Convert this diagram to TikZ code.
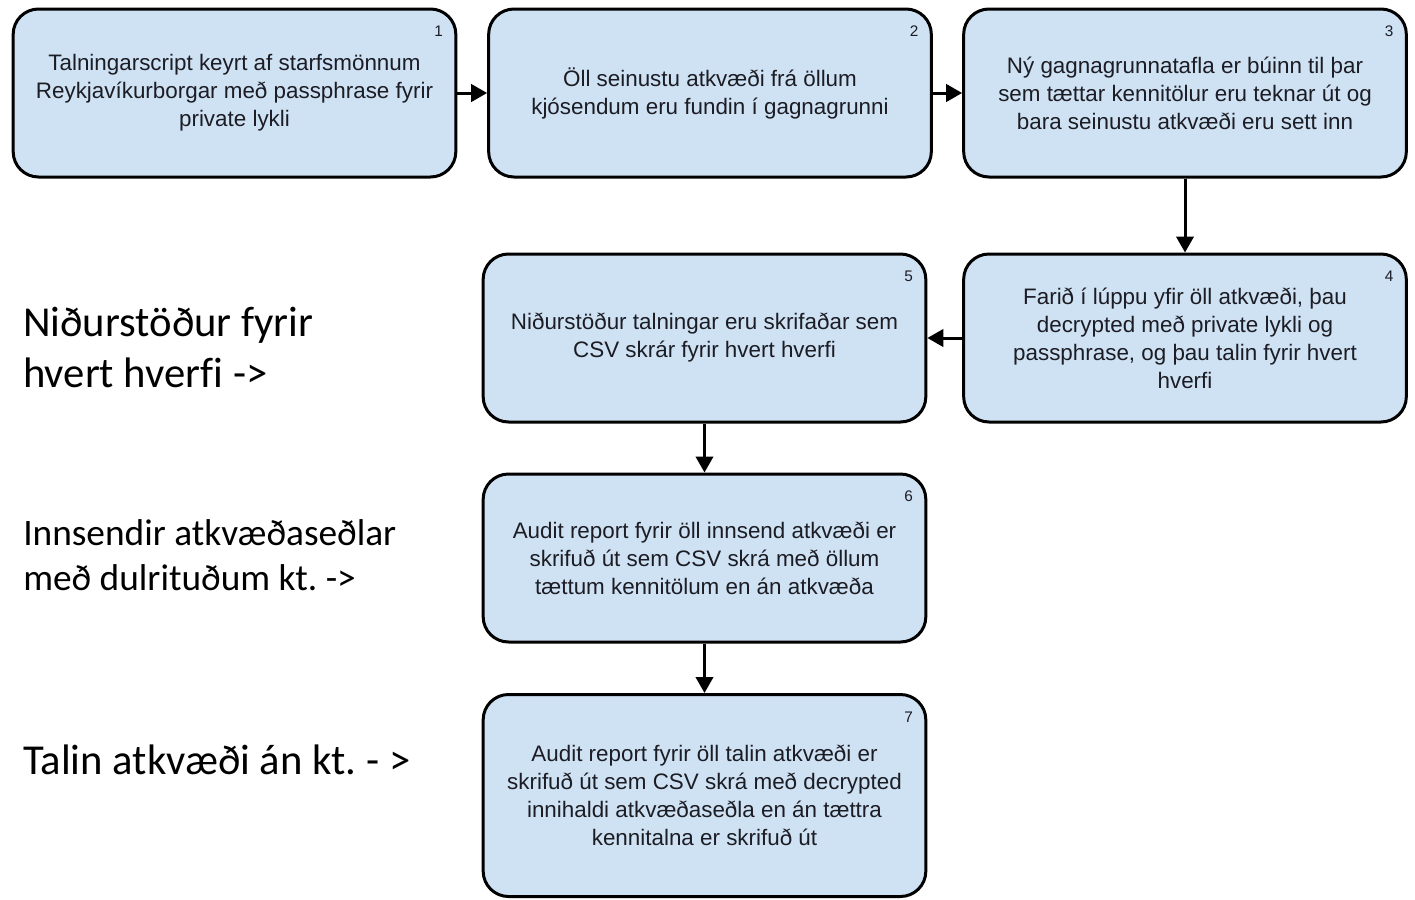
\documentclass[tikz,border=0pt]{standalone}
\usepackage{fontspec}
\setmainfont{Liberation Sans}
\newfontfamily\sidefont[Ligatures=NoCommon]{Carlito}
\usepackage{tikz}
\usetikzlibrary{arrows.meta}
\frenchspacing

\definecolor{boxblue}{HTML}{CFE2F3}
\definecolor{inktxt}{HTML}{1C1C24}

\tikzset{
  stepbox/.style={draw=black, line width=2.25pt, fill=boxblue, rounded corners=19pt,
    minimum width=332pt, minimum height=126pt, align=center, text=inktxt,
    font=\fontsize{16.8pt}{21pt}\selectfont},
  num/.style={font=\fontsize{11.5pt}{12pt}\selectfont, text=inktxt, inner sep=0pt},
  flow/.style={line width=2.25pt, -{Triangle[length=12pt,width=13pt]}},
  side/.style={anchor=west, align=left, inner sep=0pt, font=\sidefont}
}

\begin{document}
\begin{tikzpicture}[x=0.75pt,y=-0.75pt]
\useasboundingbox (0,0) rectangle (1415,900);

% the seven steps
\node[stepbox] (b1) at (234.5,93) {Talningarscript keyrt af starfsmönnum\\Reykjavíkurborgar með passphrase fyrir\\private lykli};
\node[stepbox] (b2) at (710,93) {Öll seinustu atkvæði frá öllum\\kjósendum eru fundin í gagnagrunni};
\node[stepbox] (b3) at (1185,93) {Ný gagnagrunnatafla er búinn til þar\\sem tættar kennitölur eru teknar út og\\bara seinustu atkvæði eru sett inn};
\node[stepbox] (b4) at (1185,338) {Farið í lúppu yfir öll atkvæði, þau\\decrypted með private lykli og\\passphrase, og þau talin fyrir hvert\\hverfi};
\node[stepbox] (b5) at (704.5,338) {Niðurstöður talningar eru skrifaðar sem\\CSV skrár fyrir hvert hverfi};
\node[stepbox] (b6) at (704.5,558) {Audit report fyrir öll innsend atkvæði er\\skrifuð út sem CSV skrá með öllum\\tættum kennitölum en án atkvæða};
\node[stepbox, minimum height=151.5pt] (b7) at (704.5,795.5) {Audit report fyrir öll talin atkvæði er\\skrifuð út sem CSV skrá með decrypted\\innihaldi atkvæðaseðla en án tættra\\kennitalna er skrifuð út};

% step numbers
\node[num] (n1) at ([xshift=-14pt,yshift=-18pt]b1.north east) {1};
\node[num] (n2) at ([xshift=-14pt,yshift=-18pt]b2.north east) {2};
\node[num] (n3) at ([xshift=-14pt,yshift=-18pt]b3.north east) {3};
\node[num] (n4) at ([xshift=-14pt,yshift=-18pt]b4.north east) {4};
\node[num] (n5) at ([xshift=-14pt,yshift=-18pt]b5.north east) {5};
\node[num] (n6) at ([xshift=-14pt,yshift=-18pt]b6.north east) {6};
\node[num] (n7) at ([xshift=-14pt,yshift=-18pt]b7.north east) {7};

% connectors
\draw[flow] (b1) -- (b2);
\draw[flow] (b2) -- (b3);
\draw[flow] (b3) -- (b4);
\draw[flow] (b4) -- (b5);
\draw[flow] (b5) -- (b6);
\draw[flow] (b6) -- (b7);

% notes on the left
\node[side, font=\sidefont\fontsize{32pt}{38.25pt}\selectfont] (s1) at (23,347.5) {Niðurstöður fyrir\\hvert hverfi ->};
\node[side, font=\sidefont\fontsize{28pt}{33.75pt}\selectfont] (s2) at (23,555.5) {Innsendir atkvæðaseðlar\\með dulrituðum kt. ->};
\node[side, font=\sidefont\fontsize{32pt}{36pt}\selectfont] (s3) at (23,760) {Talin atkvæði án kt. - >};
\end{tikzpicture}
\end{document}
